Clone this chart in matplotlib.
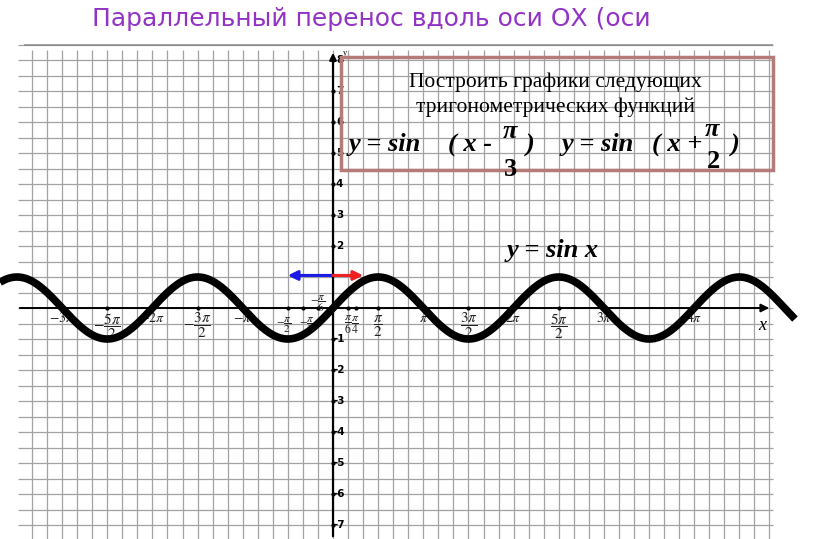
import numpy as np
import matplotlib
matplotlib.use('Agg')
from matplotlib import pyplot as plt
from matplotlib.patches import Rectangle

plt.rcParams['mathtext.fontset'] = 'stix'

# tick labels on the x axis (positions in multiples of pi)
x_tick_mult = [-3, -2.5, -2, -1.5, -1, -0.5, -1/3, -1/6, 1/6, 1/4, 0.5, 1, 1.5, 2, 2.5, 3, 4]
x_tick_labels = [r'$-3\pi$', r'$-\dfrac{5\pi}{2}$', r'$-2\pi$', r'$-\dfrac{3\pi}{2}$', r'$-\pi$',
                 r'$-\dfrac{\pi}{2}$', r'$-\dfrac{\pi}{3}$', r'$-\dfrac{\pi}{6}$', r'$\dfrac{\pi}{6}$',
                 r'$\dfrac{\pi}{4}$', r'$\dfrac{\pi}{2}$', r'$\pi$', r'$\dfrac{3\pi}{2}$', r'$2\pi$',
                 r'$\dfrac{5\pi}{2}$', r'$3\pi$', r'$4\pi$']
# tick labels on the y axis
y_tick_vals = [-7, -6, -5, -4, -3, -2, -1, 2, 3, 4, 5, 6, 7, 8]
# shifts shown by the arrows: x + pi/2 (left) and x - pi/3 (right)
shifts = [-np.pi / 2, np.pi / 3]
shift_colors = ['#1a1ae6', '#ee2020']

title = 'Параллельный перенос вдоль оси ОХ (оси'
task_lines = ['Построить графики следующих', 'тригонометрических функций']

# pixel -> data helpers (figure is 816x539 px)
PPR = 90.3 / np.pi   # px per radian
PPU = 31.0           # px per y unit
X0, Y0 = 333, 308


def dx(p):
    return (p - X0) / PPR


def dy(p):
    return (Y0 - p) / PPU


fig = plt.figure(figsize=(8.16, 5.39), dpi=100)
ax = fig.add_axes([0, 0, 1, 1])
xlim = (dx(0), dx(816))
ylim = (dy(539), dy(0))
ax.set_xlim(xlim)
ax.set_ylim(ylim)
ax.axis('off')

# squared paper
grid_c = '#a2a2a2'
for k in range(-20, 30):
    ax.vlines(k * np.pi / 6, ylim[0], dy(50), color=grid_c, lw=0.9, zorder=1)
for j in range(-15, 18):
    ax.hlines(j * 0.5, dx(18), dx(773), color=grid_c, lw=0.9, zorder=1)
ax.hlines(dy(45), dx(24), dx(773), color='#888888', lw=1.1, zorder=1)

# axes with arrows
ax.annotate('', xy=(dx(772), 0), xytext=(dx(17), 0),
            arrowprops=dict(arrowstyle='-|>', color='black', lw=1.4, mutation_scale=12), zorder=2)
ax.annotate('', xy=(0, dy(50)), xytext=(0, ylim[0]),
            arrowprops=dict(arrowstyle='-|>', color='black', lw=1.6, mutation_scale=10), zorder=2)
ax.text(dx(762), dy(325), 'x', fontsize=13, family='Liberation Serif', style='italic',
        ha='center', va='center', zorder=3)
ax.text(dx(343), dy(53), 'y', fontsize=6, family='Liberation Serif', ha='left', va='center')

# x tick labels
for m, lab in zip(x_tick_mult, x_tick_labels):
    xv = m * np.pi
    ax.plot(xv, 0, 'o', color='black', ms=2, zorder=3)
    xt = xv
    if m == -1/6:
        yc, fs = dy(304), 8
    elif m == -1/3:
        yc, fs, xt = dy(325), 8, xv + dx(337) - dx(333)
    elif m == -0.5:
        yc, fs, xt = dy(325), 8, xv - (dx(337) - dx(333))
    elif abs(m) < 0.4:
        yc, fs = dy(325), 8.5
    elif 'frac' in lab:
        yc, fs = dy(326), 11
    else:
        yc, fs = dy(318), 10
    ax.text(xt, yc, lab, fontsize=fs, ha='center', va='center', color='#222222', zorder=3)

# y tick labels
for v in y_tick_vals:
    ax.plot(0, v, 'o', color='black', ms=2, zorder=3)
    xl = dx(333) if v < 0 else dx(336)
    ax.text(xl, v, str(v), fontsize=7.5, fontweight='bold', ha='left', va='center', zorder=3)

# y = sin x
xs = np.linspace(dx(0), dx(795), 900)
ax.plot(xs, np.sin(xs), color='black', lw=5.5, solid_capstyle='butt', zorder=4)

# shift arrows
for s, c in zip(shifts, shift_colors):
    ax.annotate('', xy=(s, 1.05), xytext=(0, 1.05),
                arrowprops=dict(arrowstyle='-|>', color=c, lw=2.2, mutation_scale=14,
                                shrinkA=0, shrinkB=0), zorder=5)

# task box
ax.add_patch(Rectangle((dx(341), dy(170)), dx(773) - dx(341), dy(57) - dy(170),
                       fill=False, edgecolor='#b47b78', lw=2.5, zorder=3))
ax.text(dx(555), dy(82), task_lines[0], fontsize=15.5, family='Liberation Serif',
        ha='center', va='center', zorder=3)
ax.text(dx(555), dy(107), task_lines[1], fontsize=15.5, family='Liberation Serif',
        ha='center', va='center', zorder=3)

fkw = dict(fontsize=19, family='Liberation Serif', fontweight='bold', zorder=3)
ax.text(dx(349), dy(145), 'y = sin', style='italic', ha='left', va='center', **fkw)
ax.text(dx(448), dy(145), '( x -', style='italic', ha='left', va='center', **fkw)
ax.text(dx(510), dy(131), 'π', style='italic', ha='center', va='center', **fkw)
ax.text(dx(510), dy(170), '3', ha='center', va='center', **fkw)
ax.text(dx(530), dy(145), ')', style='italic', ha='center', va='center', **fkw)

ax.text(dx(562), dy(145), 'y = sin', style='italic', ha='left', va='center', **fkw)
ax.text(dx(652), dy(145), '( x +', style='italic', ha='left', va='center', **fkw)
ax.text(dx(712), dy(130), 'π', style='italic', ha='center', va='center', **fkw)
ax.text(dx(714), dy(162), '2', ha='center', va='center', **fkw)
ax.text(dx(735), dy(145), ')', style='italic', ha='center', va='center', **fkw)

ax.text(dx(507), dy(250), 'y = sin x', style='italic', ha='left', va='center', **fkw)

fig.text(92 / 816, 1 - 19 / 539, title, color='#9333c6', fontsize=18,
         family='DejaVu Sans', ha='left', va='center')

fig.savefig('out.png', dpi=100, facecolor='white')
